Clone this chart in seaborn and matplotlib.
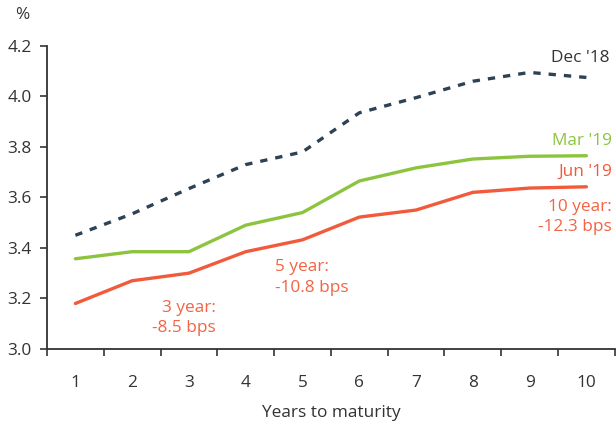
import matplotlib
matplotlib.use("Agg")
import matplotlib.pyplot as plt
from matplotlib.ticker import FixedLocator, NullFormatter
import seaborn as sns
import pandas as pd

maturities = [1, 2, 3, 4, 5, 6, 7, 8, 9, 10]
dec_18 = [3.45, 3.535, 3.635, 3.73, 3.78, 3.935, 3.995, 4.06, 4.095, 4.075]
mar_19 = [3.357, 3.385, 3.385, 3.49, 3.54, 3.665, 3.717, 3.752, 3.763, 3.765]
jun_19 = [3.18, 3.27, 3.30, 3.385, 3.432, 3.522, 3.55, 3.62, 3.637, 3.642]
series_names = ["Dec '18", "Mar '19", "Jun '19"]
colors = {"Dec '18": "#2d4255", "Mar '19": "#8cc43f", "Jun '19": "#f15a3a"}

df = pd.concat([
    pd.DataFrame({"maturity": maturities, "yield": vals, "series": name})
    for name, vals in zip(series_names, [dec_18, mar_19, jun_19])
])

sns.set_style("white")
plt.rcParams["font.family"] = ["Open Sans", "DejaVu Sans"]
FS = 12.4
TXT = "#333333"

fig = plt.figure(figsize=(6.16, 4.25), dpi=100)
ax = fig.add_axes([0.0763, 0.179, 0.9217, 0.713])

sns.lineplot(data=df, x="maturity", y="yield", hue="series", style="series",
             palette=colors, dashes={"Dec '18": (2.2, 2.4), "Mar '19": "", "Jun '19": ""},
             linewidth=2.4, legend=False, ax=ax)

ax.set_xlim(0.5, 10.5)
ax.set_ylim(3.0, 4.2)
yt = [3.0, 3.2, 3.4, 3.6, 3.8, 4.0, 4.2]
ax.set_yticks(yt)
ax.set_yticklabels([f"{v:.1f}" for v in yt])
ax.set_xticks(maturities)
ax.set_xticklabels([str(m) for m in maturities])
ax.xaxis.set_minor_locator(FixedLocator([m + 0.5 for m in range(0, 11)]))
ax.xaxis.set_minor_formatter(NullFormatter())
ax.tick_params(axis="x", which="major", length=0, pad=19, labelsize=FS, labelcolor=TXT)
ax.tick_params(axis="x", which="minor", length=5, width=1.2, color=TXT, direction="out", bottom=True)
ax.tick_params(axis="y", which="major", length=5, width=1.2, color=TXT, direction="out",
               left=True, labelsize=FS, labelcolor=TXT, pad=6)

for side in ["top", "right"]:
    ax.spines[side].set_visible(False)
for side in ["left", "bottom"]:
    ax.spines[side].set_color(TXT)
    ax.spines[side].set_linewidth(1.3)

ax.set_xlabel("Years to maturity", fontsize=FS, color=TXT, labelpad=10)
ax.set_ylabel("")
fig.text(22 / 616, 1 - 15 / 425, "%", fontsize=FS, color=TXT, ha="center", va="center")

ax.text(10.4, 4.152, "Dec '18", color=TXT, fontsize=FS, ha="right", va="center")
ax.text(10.46, 3.824, "Mar '19", color=colors["Mar '19"], fontsize=FS, ha="right", va="center")
ax.text(10.46, 3.701, "Jun '19", color=colors["Jun '19"], fontsize=FS, ha="right", va="center")

bps_3 = (jun_19[2] - mar_19[2]) * 100
bps_5 = (jun_19[4] - mar_19[4]) * 100
bps_10 = (jun_19[9] - mar_19[9]) * 100
ann = "#f26445"
ax.text(3.475, 3.123, f"3 year:\n{bps_3:.1f} bps", color=ann, fontsize=FS,
        ha="right", va="center", multialignment="right", linespacing=1.35)
ax.text(4.514, 3.283, f"5 year:\n{bps_5:.1f} bps", color=ann, fontsize=FS,
        ha="left", va="center", linespacing=1.35)
ax.text(10.45, 3.521, f"10 year:\n{bps_10:.1f} bps", color=ann, fontsize=FS,
        ha="right", va="center", multialignment="right", linespacing=1.35)

fig.savefig("out.png", dpi=100)
